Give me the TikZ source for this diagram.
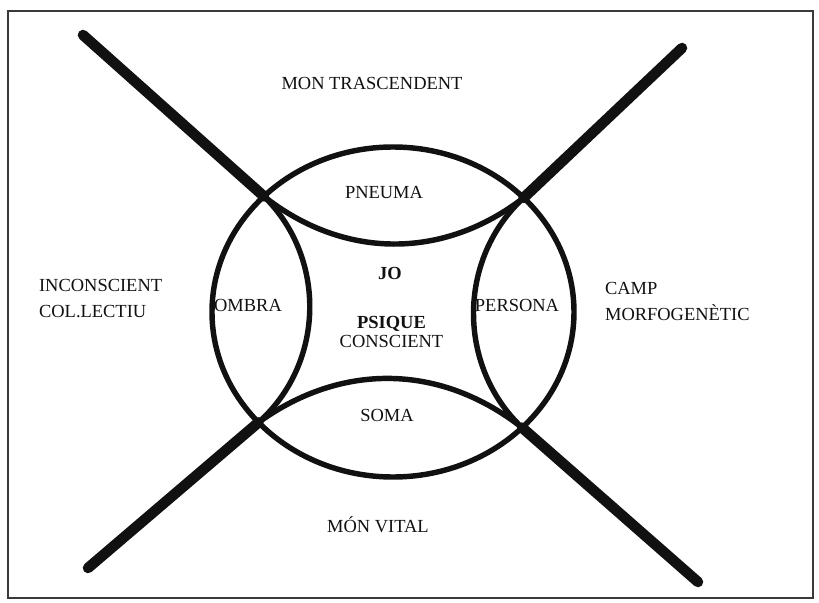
\documentclass[tikz,border=0pt]{standalone}
\usepackage{fontspec}
\setmainfont{Liberation Serif}
\usepackage{xcolor}
\usepackage{tikz}
\usetikzlibrary{positioning,calc}
\definecolor{Ink}{HTML}{111111}
\definecolor{Frame}{HTML}{3A3A3A}

\begin{document}
\begin{tikzpicture}[lbl/.style={font=\fontsize{10.5}{15}\selectfont,text=Ink,inner sep=1pt},
  cross/.style={line width=6pt,Ink,line cap=round},
  ring/.style={line width=3.1pt,Ink}]
  \useasboundingbox (-7.86,-5.80) rectangle (8.52,6.24);
  \draw[line width=1.6pt,Frame] (-7.70,-5.72) rectangle (8.40,6.02);
  % crossing points on the ring
  \coordinate (tl) at (135.5:3.62 and 3.30);
  \coordinate (tr) at (43.8:3.62 and 3.30);
  \coordinate (bl) at (222:3.62 and 3.30);
  \coordinate (br) at (315.5:3.62 and 3.30);
  % outer ends of the cross
  \coordinate (tlend) at (-6.20,5.54);
  \coordinate (trend) at (5.78,5.28);
  \coordinate (blend) at (-6.10,-5.12);
  \coordinate (brend) at (6.10,-5.40);
  \draw[cross] (tlend) -- (tl);
  \draw[cross] (trend) -- (tr);
  \draw[cross] (blend) -- (bl);
  \draw[cross] (brend) -- (br);
  \draw[ring] (0,0) ellipse (3.62 and 3.30);
  \draw[ring] (tl) to[bend right=38] (tr);
  \draw[ring] (bl) to[bend left=37] (br);
  \draw[ring] (tl) to[bend left=47] (bl);
  \draw[ring] (tr) to[bend right=47] (br);
  \node[lbl] (trasc) at (-0.42,4.58) {MON TRASCENDENT};
  \node[lbl,anchor=west,align=left] (incons) at (-7.12,0.27) {INCONSCIENT\\COL.LECTIU};
  \node[lbl,anchor=west,align=left] (camp) at (4.20,0.21) {CAMP\\MORFOGENÈTIC};
  \node[lbl] (pneuma) at (-0.18,2.38) {PNEUMA};
  \node[lbl,font=\fontsize{10.5}{15}\selectfont\bfseries] (jo) at (-0.06,0.78) {JO};
  \node[lbl] (ombra) at (-2.90,0.14) {OMBRA};
  \node[lbl] (persona) at (2.48,0.14) {PERSONA};
  \node[lbl,align=center] (psique) at (-0.03,-0.40) {\textbf{PSIQUE}\\[-4pt]CONSCIENT};
  \node[lbl] (soma) at (-0.12,-2.06) {SOMA};
  \node[lbl] (vital) at (-0.30,-4.26) {MÓN VITAL};
\end{tikzpicture}
\end{document}
